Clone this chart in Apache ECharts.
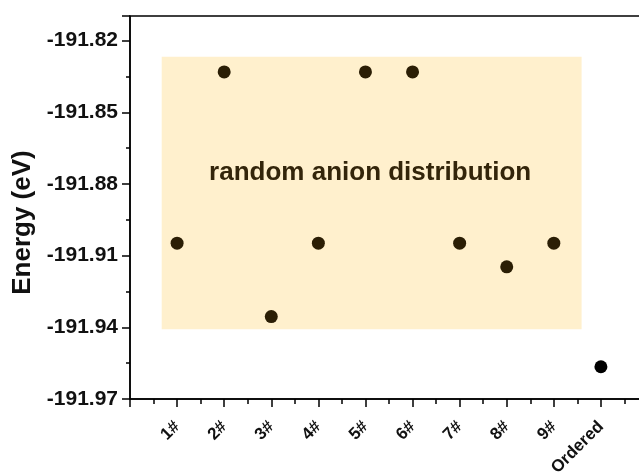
<!DOCTYPE html>
<html><head><meta charset="utf-8">
<script src="https://cdn.jsdelivr.net/npm/echarts@6/dist/echarts.min.js"></script>
<style>html,body{margin:0;padding:0;background:#fff}#c{width:639px;height:476px}</style>
</head><body><div id="c"></div>
<script>
var categories = ['1#','2#','3#','4#','5#','6#','7#','8#','9#','Ordered'];
var randomEnergy = [-191.9048,-191.8331,-191.9355,-191.9048,-191.8331,-191.8331,-191.9048,-191.9147,-191.9048];
var orderedEnergy = [-191.9565];
var yTicks = [-191.97,-191.94,-191.91,-191.88,-191.85,-191.82];
var regionX = [0.673, 9.59];
var regionY = [-191.9408, -191.8268];
var regionLabel = 'random anion distribution';
var regionLabelPos = [5.1, -191.8754];

var randomData = randomEnergy.map(function(v,i){return [i+1, v];});
var orderedData = orderedEnergy.map(function(v,i){return [10+i, v];});
var font = 'Liberation Sans, Arial, sans-serif';

var chart = echarts.init(document.getElementById('c'), null, {renderer:'canvas'});
chart.setOption({
  animation:false,
  grid:{left:130, top:16, bottom:77, right:-9, outerBoundsMode:'none', containLabel:false,
    show:true, borderColor:'#000', borderWidth:1.5, backgroundColor:'transparent'},
  xAxis:{type:'value', min:0, max:11, interval:1,
    axisLine:{lineStyle:{color:'#000', width:1.5}},
    axisTick:{show:true, length:8, lineStyle:{color:'#000', width:1.5}},
    minorTick:{show:true, splitNumber:2, length:5, lineStyle:{color:'#000', width:1.5}},
    splitLine:{show:false},
    axisLabel:{rotate:45, margin:25, fontFamily:font, fontWeight:'bold', fontSize:17, color:'#111',
      formatter:function(v){ return (v>=1 && v<=categories.length) ? categories[v-1] : ''; }}
  },
  yAxis:{type:'value', min:yTicks[0], max:-191.8097, interval:0.03,
    name:'Energy (eV)', nameLocation:'middle', nameGap:94,
    nameTextStyle:{fontFamily:font, fontWeight:'bold', fontSize:26, color:'#111', padding:[0,30,0,0]},
    axisLine:{show:true, lineStyle:{color:'#000', width:1.5}},
    axisTick:{show:true, length:8, lineStyle:{color:'#000', width:1.5}},
    minorTick:{show:true, splitNumber:2, length:4, lineStyle:{color:'#000', width:1.5}},
    splitLine:{show:false},
    axisLabel:{margin:12, fontFamily:font, fontWeight:'bold', fontSize:21, color:'#111', showMaxLabel:false,
      formatter:function(v){ return yTicks.some(function(t){return Math.abs(t-v)<1e-6;}) ? v.toFixed(2) : ''; }}
  },
  series:[
    {type:'scatter', data:randomData, symbolSize:13, itemStyle:{color:'#2b1e05', opacity:1}, z:3,
      markArea:{silent:true, itemStyle:{color:'#fff0cd', opacity:1},
        data:[[{coord:[regionX[0], regionY[0]]},{coord:[regionX[1], regionY[1]]}]]}},
    {type:'scatter', data:orderedData, symbolSize:13, itemStyle:{color:'#000', opacity:1}, z:3},
    {type:'scatter', data:[regionLabelPos], symbolSize:0, silent:true, z:4, itemStyle:{opacity:1},
      label:{show:true, position:'inside', formatter:function(){return regionLabel;},
        fontFamily:font, fontWeight:'bold', fontSize:26, color:'#33250a'}}
  ]
});
</script></body></html>
